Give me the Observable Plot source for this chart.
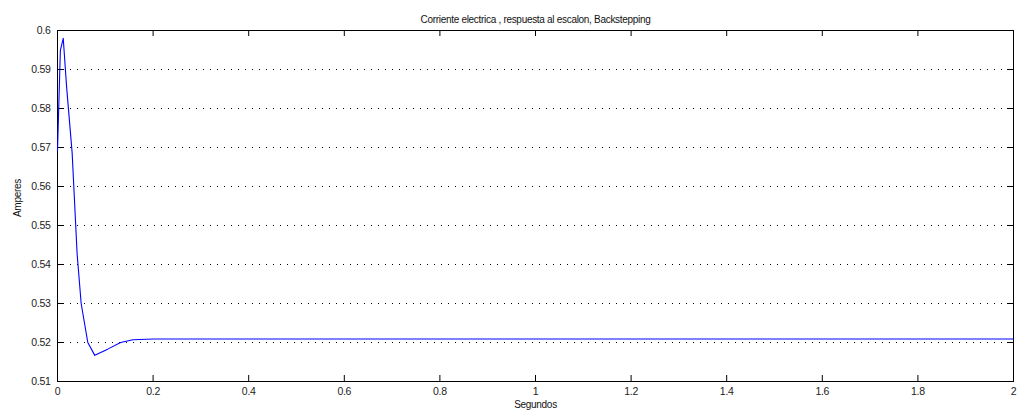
<!DOCTYPE html>
<html>
<head>
<meta charset="utf-8">
<script src="https://cdn.jsdelivr.net/npm/d3@7"></script>
<script src="https://cdn.jsdelivr.net/npm/@observablehq/plot@0.6"></script>
<style>
  html, body { margin: 0; padding: 0; background: #fff; }
  svg { display: block; }
</style>
</head>
<body>
<div id="chart"></div>
<script>
const titleText = "Corriente electrica , respuesta al escalon, Backstepping";
const xLabel = "Segundos";
const yLabel = "Amperes";

const timeS = [0, 0.006, 0.012, 0.019, 0.0307, 0.041, 0.0495, 0.0634, 0.078, 0.105, 0.132, 0.158, 0.2, 0.5, 1.0, 1.5, 2.0];
const currentA = [0.5692, 0.5949, 0.598, 0.5856, 0.5685, 0.5428, 0.530, 0.520, 0.5167, 0.5183, 0.5200, 0.5207, 0.5209, 0.5209, 0.5209, 0.5209, 0.5209];

const xTicks = [0, 0.2, 0.4, 0.6, 0.8, 1, 1.2, 1.4, 1.6, 1.8, 2];
const yTicks = [0.51, 0.52, 0.53, 0.54, 0.55, 0.56, 0.57, 0.58, 0.59, 0.6];

const data = timeS.map((t, i) => ({t, a: currentA[i]}));
const fmt = d3.format("~g");

const W = 1021, H = 415;
const mL = 57, mR = 8, mT = 30, mB = 34;
const frameW = W - mL - mR, frameH = H - mT - mB;
const tick = 6;

const chart = Plot.plot({
  width: W,
  height: H,
  marginLeft: mL,
  marginRight: mR,
  marginTop: mT,
  marginBottom: mB,
  style: {fontFamily: "'Liberation Sans', Arial, sans-serif", fontSize: "10px", color: "#222", background: "#fff", letterSpacing: "-0.3px"},
  x: {domain: [0, 2], ticks: xTicks},
  y: {domain: [0.51, 0.6], ticks: yTicks},
  marks: [
    Plot.gridY(yTicks.slice(1, -1), {stroke: "#000", strokeOpacity: 1, strokeWidth: 1, strokeDasharray: "1,6", insetLeft: tick, insetRight: tick}),
    Plot.axisX(xTicks, {tickSize: 0, tickPadding: 6, tickFormat: fmt, fontSize: 10.5, fill: "#222", label: null}),
    Plot.axisY(yTicks, {tickSize: 0, tickPadding: 7, tickFormat: fmt, fontSize: 10.5, fill: "#222", label: null}),
    // inward ticks
    Plot.tickX(xTicks, {x: d => d, insetTop: frameH - tick, stroke: "#000"}),
    Plot.tickX(xTicks, {x: d => d, insetBottom: frameH - tick, stroke: "#000"}),
    Plot.tickY(yTicks, {y: d => d, insetRight: frameW - tick, stroke: "#000"}),
    Plot.tickY(yTicks, {y: d => d, insetLeft: frameW - tick, stroke: "#000"}),
    Plot.frame({stroke: "#000", strokeWidth: 1}),
    Plot.line(data, {x: "t", y: "a", stroke: "#0000ff", strokeWidth: 1.1}),
    Plot.text([titleText], {frameAnchor: "top", dy: -15, fontSize: 10, fill: "#111"}),
    Plot.text([xLabel], {frameAnchor: "bottom", dy: 26, fontSize: 10, fill: "#111"}),
    Plot.text([yLabel], {frameAnchor: "left", dx: -40, dy: 11, rotate: -90, fontSize: 10, fill: "#111"})
  ]
});
document.getElementById("chart").appendChild(chart);
</script>
</body>
</html>
